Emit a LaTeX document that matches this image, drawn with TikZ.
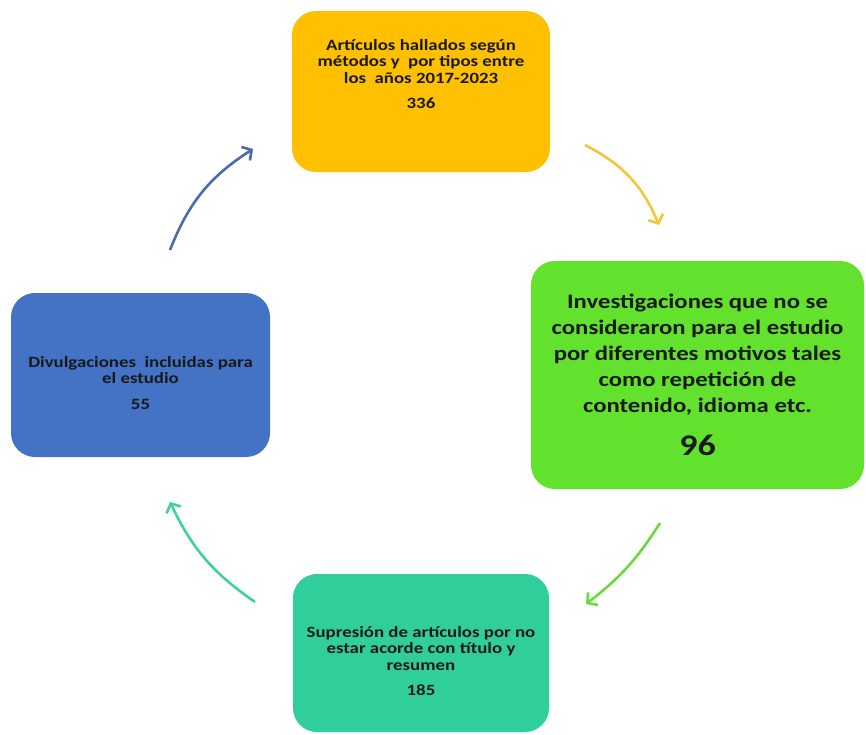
\documentclass[tikz,border=0pt]{standalone}
\usepackage{fontspec}
\setmainfont{Carlito}[FakeStretch=1.2]
\usetikzlibrary{arrows.meta}

\definecolor{cajaNaranja}{HTML}{FFC000}
\definecolor{cajaVerde}{HTML}{62E22C}
\definecolor{cajaAzul}{HTML}{4472C4}
\definecolor{cajaTurquesa}{HTML}{30CE9B}
\definecolor{flechaAzul}{HTML}{4A6BAE}
\definecolor{flechaNaranja}{HTML}{F3C63A}
\definecolor{flechaVerde}{HTML}{6CDA3E}
\definecolor{flechaTurquesa}{HTML}{3FD1A2}

\begin{document}
\begin{tikzpicture}[x=1pt, y=-1pt,
    box/.style={rounded corners=24pt, inner sep=0pt},
    boxtext/.style={align=center, font=\bfseries\fontsize{15.7}{16.5}\selectfont, text=black!90},
    flecha/.style={line width=2.6pt, ->, >={Straight Barb[length=7pt, width=16pt]}, bend left=#1},
    flecha/.default=15]
    \useasboundingbox (0,0) rectangle (866,734);

    % cajas del ciclo
    \node (articulos) [box, fill=cajaNaranja, minimum width=258pt, minimum height=161pt] at (421,91.5) {};
    \node (descartes) [box, fill=cajaVerde, minimum width=333pt, minimum height=228pt] at (697.5,375) {};
    \node (supresion) [box, fill=cajaTurquesa, minimum width=256pt, minimum height=158pt] at (421,653) {};
    \node (incluidas) [box, fill=cajaAzul, minimum width=259pt, minimum height=164pt] at (140.5,375) {};

    % textos
    \node (articulosT) [boxtext] at (421,74) {Artículos hallados según\\ métodos y~ por tipos entre\\ los~ años 2017-2023\\[9pt] 336};
    \node (descartesT) [boxtext, font=\bfseries\fontsize{20.6}{26}\selectfont] at (697.5,375)
        {Investigaciones que no se\\ consideraron para el estudio\\ por diferentes motivos tales\\ como repetición de\\ contenido, idioma etc.\\[17pt] {\upshape\fontsize{30}{32}\selectfont 96}};
    \node (supresionT) [boxtext] at (421,661) {Supresión de artículos por no\\ estar acorde con título y\\ resumen\\[9pt] 185};
    \node (incluidasT) [boxtext] at (140.5,383) {Divulgaciones~ incluidas para\\ el estudio\\[9pt] 55};

    % extremos de las flechas
    \coordinate (a1) at (585,145);
    \coordinate (a2) at (659,225);
    \coordinate (b1) at (660,523);
    \coordinate (b2) at (586,604);
    \coordinate (c1) at (255,602);
    \coordinate (c2) at (170,502);
    \coordinate (d1) at (170,250);
    \coordinate (d2) at (253,149);

    % flechas curvas
    \draw[flecha=20, flechaNaranja] (a1) to (a2);
    \draw[flecha=10, flechaVerde] (b1) to (b2);
    \draw[flecha=15, flechaTurquesa] (c1) to (c2);
    \draw[flecha=18, flechaAzul] (d1) to (d2);
\end{tikzpicture}
\end{document}
